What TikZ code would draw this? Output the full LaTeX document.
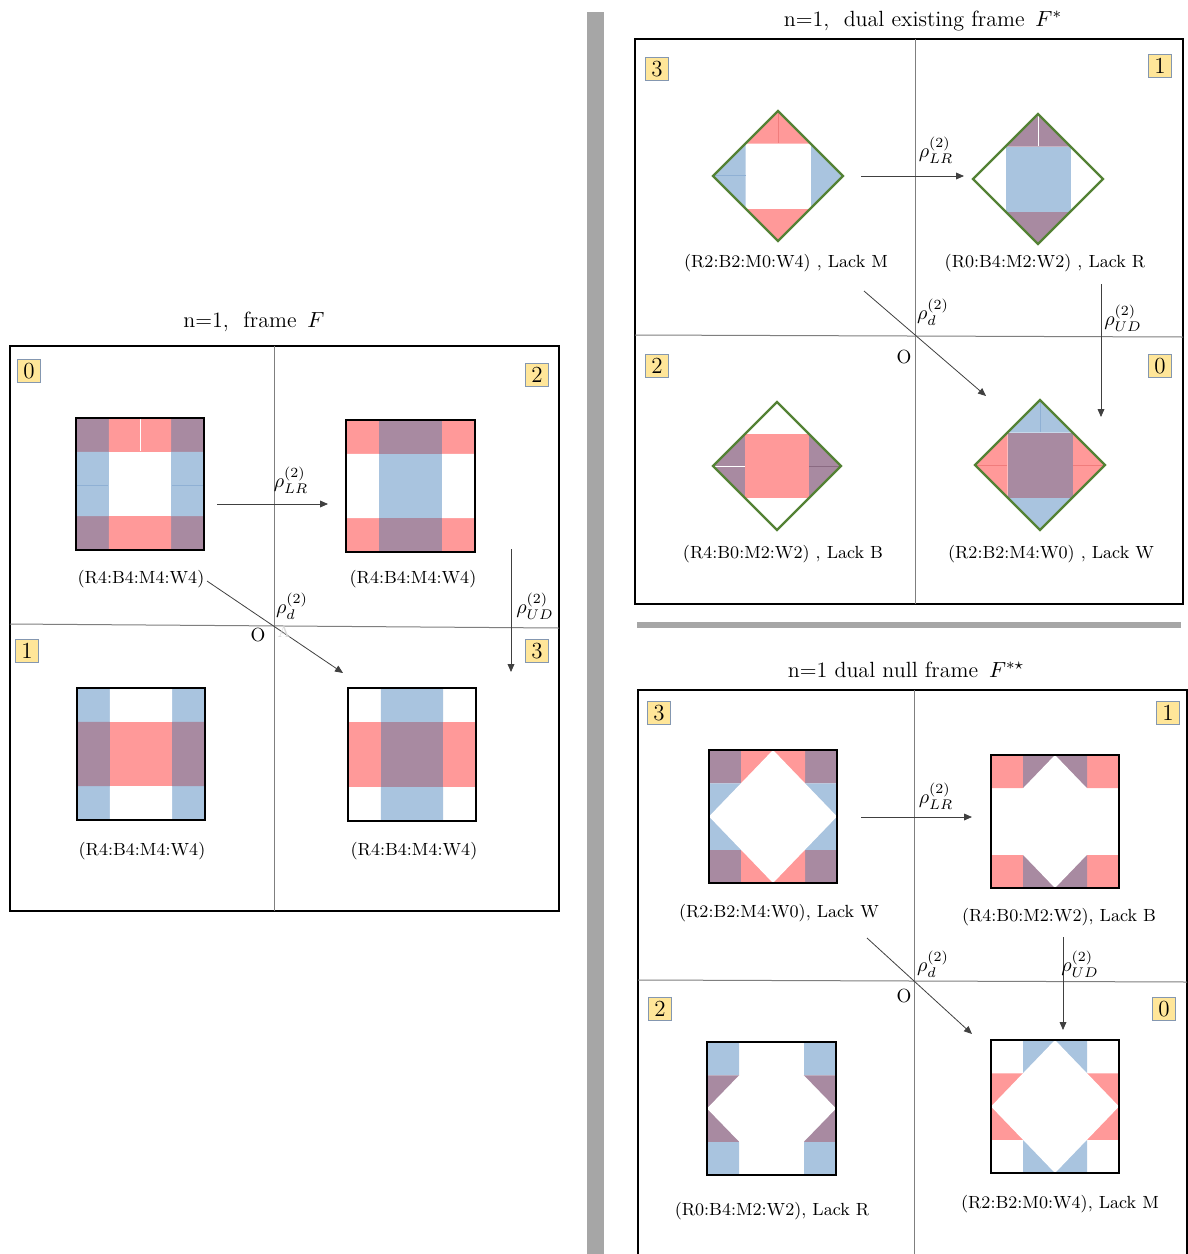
\documentclass[tikz,border=0pt]{standalone}
\usetikzlibrary{arrows.meta}
\definecolor{cpink}{HTML}{FF9999}
\definecolor{cblue}{HTML}{A9C4DF}
\definecolor{cpurp}{HTML}{A88AA1}
\definecolor{cgreen}{HTML}{548235}
\definecolor{cyel}{HTML}{FFE699}
\definecolor{cybord}{HTML}{8497B0}
\definecolor{caxis}{HTML}{7F7F7F}
\definecolor{cbar}{HTML}{A6A6A6}
\definecolor{cseamb}{HTML}{8FB0D4}
\definecolor{cseamr}{HTML}{F07C7C}
\definecolor{cseamp}{HTML}{8A6A82}
\def\gfrac{0.25}
% x0 y0 x3 y3 corner topbottom side centre
\newcommand\gridsq[8]{%
 \pgfmathsetmacro\gxa{#1}\pgfmathsetmacro\gya{#2}%
 \pgfmathsetmacro\gxd{#3}\pgfmathsetmacro\gyd{#4}%
 \pgfmathsetmacro\gxb{\gxa+\gfrac*(\gxd-\gxa)}\pgfmathsetmacro\gxc{\gxd-\gfrac*(\gxd-\gxa)}%
 \pgfmathsetmacro\gyb{\gya+\gfrac*(\gyd-\gya)}\pgfmathsetmacro\gyc{\gyd-\gfrac*(\gyd-\gya)}%
 \fill[#5] (\gxa,\gya) rectangle (\gxb,\gyb) (\gxc,\gya) rectangle (\gxd,\gyb)
           (\gxa,\gyc) rectangle (\gxb,\gyd) (\gxc,\gyc) rectangle (\gxd,\gyd);
 \fill[#6] (\gxb,\gya) rectangle (\gxc,\gyb) (\gxb,\gyc) rectangle (\gxc,\gyd);
 \fill[#7] (\gxa,\gyb) rectangle (\gxb,\gyc) (\gxc,\gyb) rectangle (\gxd,\gyc);
 \fill[#8] (\gxb,\gyb) rectangle (\gxc,\gyc);
}
% plain square with border
\newcommand\psq[8]{\gridsq{#1}{#2}{#3}{#4}{#5}{#6}{#7}{#8}%
 \draw[sqborder] (#1,#2) rectangle (#3,#4);}
% null square: grid + white diamond + border
\newcommand\nsq[8]{\gridsq{#1}{#2}{#3}{#4}{#5}{#6}{#7}{#8}%
 \fill[white] ({(#1+#3)/2},#2) -- (#3,{(#2+#4)/2}) -- ({(#1+#3)/2},#4) -- (#1,{(#2+#4)/2}) -- cycle;
 \draw[sqborder] (#1,#2) rectangle (#3,#4);}
% diamond: cx cy h corner topbottom side centre
\newcommand\dmd[7]{%
 \begin{scope}
 \clip (#1,#2-#3) -- (#1+#3,#2) -- (#1,#2+#3) -- (#1-#3,#2) -- cycle;
 \gridsq{#1-#3}{#2-#3}{#1+#3}{#2+#3}{#4}{#5}{#6}{#7}
 \end{scope}}
\newcommand\dmdline[3]{\draw[dline] (#1,#2-#3) -- (#1+#3,#2) -- (#1,#2+#3) -- (#1-#3,#2) -- cycle;}
\tikzset{
 panelframe/.style={draw=black, line width=0.55pt},
 axisline/.style={draw=caxis, line width=0.5pt},
 sqborder/.style={draw=black, line width=1.2pt},
 dline/.style={draw=cgreen, line width=1.2pt, line join=miter},
 arr/.style={draw=black!75, line width=0.4pt, -{Triangle[length=4pt,width=3.4pt]}},
 numbox/.style={draw=cybord, fill=cyel, line width=0.6pt, minimum width=11.5pt,
   minimum height=11.5pt, inner sep=0pt, font=\fontsize{11.5}{12}\selectfont},
 captxt/.style={font=\fontsize{8.8}{10}\selectfont, inner sep=0pt},
 ttl/.style={font=\fontsize{11}{13}\selectfont, inner sep=0pt},
 rholab/.style={font=\fontsize{10}{11}\selectfont, inner sep=0pt},
 orig/.style={font=\fontsize{9.5}{10}\selectfont, inner sep=0pt},
 seam/.style={line width=0.4pt}
}
\begin{document}
\begin{tikzpicture}[x=0.5pt,y=-0.5pt]
\clip (0,0) rectangle (1188,1254);
\fill[white] (0,0) rectangle (1188,1254);

% separators
\fill[cbar] (587,12) rectangle (604,1254);
\fill[cbar] (637,622) rectangle (1181,628);

% ================= left panel: frame F =================
\node[ttl] (tF) at (254,322) {n=1,\ \ frame\ \,$F$};
\draw[panelframe] (10,346) rectangle (559,911);
\draw[axisline] (274,346) -- (274,911);
\draw[axisline] (10,624) -- (559,628);

\def\gfrac{0.257}
\psq{76}{418}{204}{550}{cpurp}{cpink}{cblue}{white}
\draw[seam,white] (140,419) -- (140,451);
\draw[seam,cseamb] (77,485) -- (108,485) (172,485) -- (203,485);
\psq{346}{420}{475}{552}{cpink}{cpurp}{white}{cblue}
\psq{77}{688}{205}{820}{cblue}{white}{cpurp}{cpink}
\psq{348}{688}{476}{821}{white}{cblue}{cpink}{cpurp}

\node[numbox] (l0) at (29,371) {0};
\node[numbox] (l2) at (537,375) {2};
\node[numbox] (l1) at (27,651) {1};
\node[numbox] (l3) at (537,651) {3};

\node[captxt] (c0) at (141,579) {(R4:B4:M4:W4)};
\node[captxt] (c2) at (413,579) {(R4:B4:M4:W4)};
\node[captxt] (c1) at (142,851) {(R4:B4:M4:W4)};
\node[captxt] (c3) at (414,851) {(R4:B4:M4:W4)};

\coordinate (lLRa) at (217,504); \coordinate (lLRb) at (328,504);
\coordinate (lda) at (207,581);  \coordinate (ldb) at (343,673);
\coordinate (lUDa) at (511,549); \coordinate (lUDb) at (511,672);
\draw[arr] (lLRa) -- (lLRb);
\draw[arr] (lda) -- (ldb);
\draw[arr] (lUDa) -- (lUDb);
\node[rholab] (rl1) at (291,480) {$\rho^{(2)}_{LR}$};
\node[rholab] (rl2) at (292,606) {$\rho^{(2)}_{d}$};
\node[rholab] (rl3) at (535,606) {$\rho^{(2)}_{UD}$};
\node[orig] (lO) at (258,635) {O};
\node[orig,text=gray!30,font=\fontsize{8}{8}\selectfont] (lA) at (284,632) {A};

% ================= right top panel: dual existing frame =================
\node[ttl] (tFs) at (923,21) {n=1,\ \ dual existing frame\ \,$F^{*}$};
\draw[panelframe] (635,39) rectangle (1183,604);
\draw[axisline] (915,39) -- (915,604);
\draw[axisline] (635,335) -- (1183,337);

\def\gfrac{0.25}
\dmd{778}{176}{65}{cpurp}{cpink}{cblue}{white}
\draw[seam,cseamr] (778,112) -- (778,143);
\draw[seam,cseamb] (714,175) -- (746,175);
\dmdline{778}{176}{65}
\dmd{1038}{179}{65}{cpink}{cpurp}{white}{cblue}
\draw[seam,white] (1038,115) -- (1038,146);
\dmdline{1038}{179}{65}
\dmd{777}{466}{64}{cblue}{white}{cpurp}{cpink}
\draw[seam,white] (714,466) -- (745,466);
\draw[seam,cseamp] (809,466) -- (840,466);
\dmdline{777}{466}{64}
\dmd{1040}{465}{65}{white}{cblue}{cpink}{cpurp}
\draw[seam,cseamb] (1040,401) -- (1040,432);
\draw[seam,cseamr] (976,465) -- (1007,465) (1073,465) -- (1104,465);
\dmdline{1040}{465}{65}

\node[numbox] (r3) at (657,69) {3};
\node[numbox] (r1) at (1160,66) {1};
\node[numbox] (r2) at (657,366) {2};
\node[numbox] (r0) at (1160,366) {0};

\node[captxt] (d3) at (786,263) {(R2:B2:M0:W4) , Lack M};
\node[captxt] (d1) at (1045,263) {(R0:B4:M2:W2) , Lack R};
\node[captxt] (d2) at (783,554) {(R4:B0:M2:W2) , Lack B};
\node[captxt] (d0) at (1051,554) {(R2:B2:M4:W0) , Lack W};

\coordinate (tLRa) at (861,176); \coordinate (tLRb) at (964,176);
\coordinate (tda) at (864,291);  \coordinate (tdb) at (986,396);
\coordinate (tUDa) at (1101,284); \coordinate (tUDb) at (1101,417);
\draw[arr] (tLRa) -- (tLRb);
\draw[arr] (tda) -- (tdb);
\draw[arr] (tUDa) -- (tUDb);
\node[rholab] (rt1) at (936,150) {$\rho^{(2)}_{LR}$};
\node[rholab] (rt2) at (933,312) {$\rho^{(2)}_{d}$};
\node[rholab] (rt3) at (1123,318) {$\rho^{(2)}_{UD}$};
\node[orig] (tO) at (904,357) {O};

% ================= right bottom panel: dual null frame =================
\node[ttl] (tFss) at (906,670) {n=1 dual null frame\ \,$F^{*\star}$};
\draw[panelframe] (638,690) rectangle (1187,1270);
\draw[axisline] (914,690) -- (914,1254);
\draw[axisline] (638,980) -- (1187,982);

\nsq{709}{750}{837}{883}{cpurp}{cpink}{cblue}{white}
\nsq{991}{755}{1119}{888}{cpink}{cpurp}{white}{cblue}
\nsq{707}{1042}{836}{1175}{cblue}{white}{cpurp}{cpink}
\nsq{991}{1040}{1119}{1173}{white}{cblue}{cpink}{cpurp}

\node[numbox] (b3) at (659,713) {3};
\node[numbox] (b1) at (1168,713) {1};
\node[numbox] (b2) at (660,1009) {2};
\node[numbox] (b0) at (1164,1009) {0};

\node[captxt] (n3) at (779,913) {(R2:B2:M4:W0), Lack W};
\node[captxt] (n1) at (1059,917) {(R4:B0:M2:W2), Lack B};
\node[captxt] (n2) at (772,1211) {(R0:B4:M2:W2), Lack R};
\node[captxt] (n0) at (1060,1204) {(R2:B2:M0:W4), Lack M};

\coordinate (bLRa) at (861,817); \coordinate (bLRb) at (972,817);
\coordinate (bda) at (867,938);  \coordinate (bdb) at (972,1034);
\coordinate (bUDa) at (1063,937); \coordinate (bUDb) at (1063,1030);
\draw[arr] (bLRa) -- (bLRb);
\draw[arr] (bda) -- (bdb);
\draw[arr] (bUDa) -- (bUDb);
\node[rholab] (rb1) at (936,796) {$\rho^{(2)}_{LR}$};
\node[rholab] (rb2) at (933,964) {$\rho^{(2)}_{d}$};
\node[rholab] (rb3) at (1080,964) {$\rho^{(2)}_{UD}$};
\node[orig] (bO) at (904,996) {O};
\end{tikzpicture}
\end{document}
